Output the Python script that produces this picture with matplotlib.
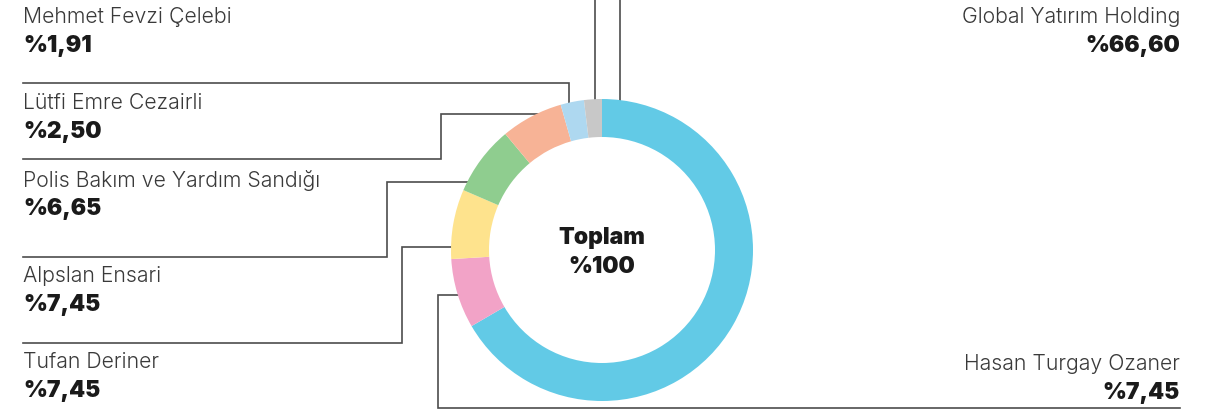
import matplotlib.pyplot as plt

# shareholders, clockwise from the top of the ring
names = ["Global Yatırım Holding", "Hasan Turgay Ozaner", "Tufan Deriner",
         "Alpslan Ensari", "Polis Bakım ve Yardım Sandığı",
         "Lütfi Emre Cezairli", "Mehmet Fevzi Çelebi"]
shares = [66.60, 7.45, 7.45, 7.45, 6.65, 2.50, 1.91]
colors = ["#62cae6", "#f2a3c7", "#fee38d", "#8fcd8f", "#f7b396",
          "#aed8f0", "#c8c8c8"]
total_label = ["Toplam", "%100"]

H = 412
fam = "Inter"

fig = plt.figure(figsize=(12.19, 4.12), dpi=100)
ax = fig.add_axes([0, 0, 1, 1])

cx, cy, R, w = 602, H - 250, 151, 38
ax.pie(shares, colors=colors, startangle=90, counterclock=False,
       center=(cx, cy), radius=R,
       wedgeprops=dict(width=w, linewidth=0))
ax.set_xlim(0, 1219)
ax.set_ylim(0, H)
ax.set_aspect("equal")
ax.axis("off")

ax.text(cx, H - 238, total_label[0], ha="center", va="center",
        fontsize=16.5, fontweight=900, family=fam, color="#1a1a1a")
ax.text(cx, H - 267, total_label[1], ha="center", va="center",
        fontsize=16.5, fontweight=900, family=fam, color="#1a1a1a")

# label anchors: (x, name y, align)
spots = {
    "Global Yatırım Holding": (1180, 17, "right"),
    "Hasan Turgay Ozaner": (1180, 364, "right"),
    "Tufan Deriner": (23, 362, "left"),
    "Alpslan Ensari": (23, 276, "left"),
    "Polis Bakım ve Yardım Sandığı": (23, 180, "left"),
    "Lütfi Emre Cezairli": (23, 103, "left"),
    "Mehmet Fevzi Çelebi": (23, 17, "left"),
}
for n, v in zip(names, shares):
    x, y, al = spots[n]
    ax.text(x, H - y, n, ha=al, va="center", fontsize=15.3,
            fontweight=300, family=fam, color="#3a3a3a")
    pct = "%" + f"{v:.2f}".replace(".", ",")
    ax.text(x, H - y - 29, pct, ha=al, va="center", fontsize=16.5,
            fontweight=900, family=fam, color="#1a1a1a")

# leader lines (image pixel coords), ending under the ring
leaders = [
    [(620, 0), (620, 106)],
    [(1180, 408), (438, 408), (438, 295), (464, 295)],
    [(23, 343), (402, 343), (402, 247), (457, 247)],
    [(23, 257), (387, 257), (387, 182), (473, 182)],
    [(23, 159), (441, 159), (441, 114), (541, 114)],
    [(23, 83), (569, 83), (569, 109)],
    [(595, 0), (595, 105)],
]
for pts in leaders:
    xs = [p[0] for p in pts]
    ys = [H - p[1] for p in pts]
    ax.plot(xs, ys, color="#4d4d4d", lw=1.2, zorder=0,
            solid_joinstyle="miter")

fig.savefig("out.png", dpi=100, facecolor="white")
